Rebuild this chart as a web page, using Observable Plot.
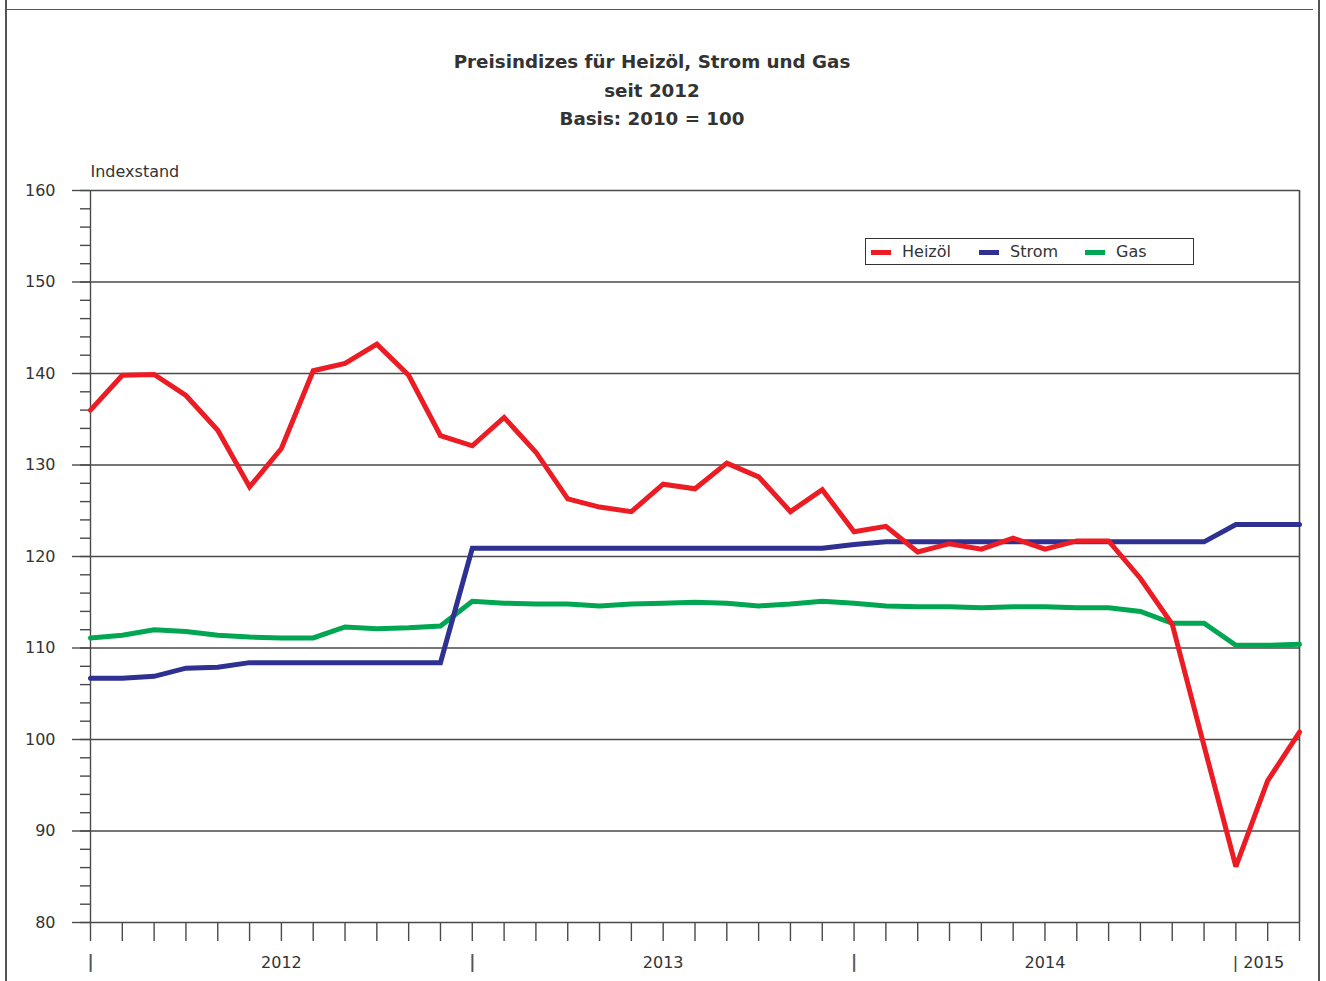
<!DOCTYPE html>
<html>
<head>
<meta charset="utf-8">
<script src="https://cdn.jsdelivr.net/npm/d3@7"></script>
<script src="https://cdn.jsdelivr.net/npm/@observablehq/plot@0.6"></script>
<style>
  html, body { margin: 0; padding: 0; background: #fff; }
  #wrap { position: relative; width: 1326px; height: 981px; overflow: hidden; font-family: "DejaVu Sans", sans-serif; color: #333; }
  #chart { position: absolute; left: 0; top: 0; }
  .frame { position: absolute; background: #555; }
  #title { position: absolute; left: 0; width: 1304px; top: 48px; text-align: center; font-weight: bold; font-size: 18.3px; line-height: 28.5px; color: #333; }
  #legend { position: absolute; left: 865px; top: 238px; width: 327px; height: 25px; border: 1.5px solid #333; box-sizing: content-box; font-size: 16px; color: #333; }
  .item { position: absolute; top: 0; height: 25px; line-height: 25px; }
  .sw { position: absolute; width: 20px; height: 5px; top: 11px; left: 0; }
  .lab { position: absolute; left: 31px; top: 0; white-space: nowrap; }
</style>
</head>
<body>
<div id="wrap">
  <div id="chart"></div>
  <div class="frame" style="left:5px;top:0;width:1.5px;height:981px"></div>
  <div class="frame" style="left:5px;top:8.5px;width:1308px;height:1.5px"></div>
  <div class="frame" style="left:1318px;top:0;width:1.5px;height:981px"></div>
  <div id="title">Preisindizes für Heizöl, Strom und Gas<br>seit 2012<br>Basis: 2010 = 100</div>
  <div id="legend"></div>
</div>
<script>
// Months (Jan 2012 – Mar 2015)
const months = [
  "2012-01","2012-02","2012-03","2012-04","2012-05","2012-06","2012-07","2012-08","2012-09","2012-10","2012-11","2012-12",
  "2013-01","2013-02","2013-03","2013-04","2013-05","2013-06","2013-07","2013-08","2013-09","2013-10","2013-11","2013-12",
  "2014-01","2014-02","2014-03","2014-04","2014-05","2014-06","2014-07","2014-08","2014-09","2014-10","2014-11","2014-12",
  "2015-01","2015-02","2015-03"
];
const heizoel = [
  136.0, 139.8, 139.9, 137.6, 133.8, 127.6, 131.8, 140.3, 141.1, 143.2, 139.8, 133.2,
  132.1, 135.2, 131.4, 126.3, 125.4, 124.9, 127.9, 127.4, 130.2, 128.7, 124.9, 127.3,
  122.7, 123.3, 120.5, 121.4, 120.8, 122.0, 120.8, 121.7, 121.7, 117.6, 112.6, 99.3,
  86.1, 95.5, 100.8
];
const strom = [
  106.7, 106.7, 106.9, 107.8, 107.9, 108.4, 108.4, 108.4, 108.4, 108.4, 108.4, 108.4,
  120.9, 120.9, 120.9, 120.9, 120.9, 120.9, 120.9, 120.9, 120.9, 120.9, 120.9, 120.9,
  121.3, 121.6, 121.6, 121.6, 121.6, 121.6, 121.6, 121.6, 121.6, 121.6, 121.6, 121.6,
  123.5, 123.5, 123.5
];
const gas = [
  111.1, 111.4, 112.0, 111.8, 111.4, 111.2, 111.1, 111.1, 112.3, 112.1, 112.2, 112.4,
  115.1, 114.9, 114.8, 114.8, 114.6, 114.8, 114.9, 115.0, 114.9, 114.6, 114.8, 115.1,
  114.9, 114.6, 114.5, 114.5, 114.4, 114.5, 114.5, 114.4, 114.4, 114.0, 112.7, 112.7,
  110.3, 110.3, 110.4
];
const seriesNames = ["Heizöl", "Strom", "Gas"];
const seriesColors = ["#ec1c24", "#2e3192", "#00a651"];
const yearLabels = ["2012", "2013", "2014"];
const yearCenters = ["2012-07", "2013-07", "2014-07"];
const yearStarts = ["2012-01", "2013-01", "2014-01"];
const lastYearLabel = "| 2015";
const lastYearStart = "2015-01";
const yMajorTicks = [80, 90, 100, 110, 120, 130, 140, 150, 160];
const yAxisTitle = "Indexstand";

const idx = m => months.indexOf(m);
const rows = [];
[["Gas", gas], ["Strom", strom], ["Heizöl", heizoel]].forEach(([name, vals]) => {
  vals.forEach((v, i) => rows.push({i, value: v, series: name}));
});

const font = "DejaVu Sans, sans-serif";
const grid = "#4a4a4a";
const blank = () => "";

const plot = Plot.plot({
  width: 1326,
  height: 981,
  marginLeft: 90,
  marginRight: 27,
  marginTop: 190,
  marginBottom: 59,
  style: {fontFamily: font, color: "#333", background: "transparent"},
  x: {type: "linear", domain: [0, months.length - 1], axis: null},
  y: {domain: [80, 160], axis: null},
  color: {domain: seriesNames, range: seriesColors},
  marks: [
    Plot.ruleY(yMajorTicks.slice(1), {stroke: grid, strokeWidth: 1.4}),
    Plot.axisY(d3.range(80, 161, 2), {tickSize: 10, tickFormat: blank, label: null, stroke: grid, strokeWidth: 1.4}),
    Plot.axisY(yMajorTicks, {tickSize: 18, tickPadding: 17, label: null, stroke: grid, strokeWidth: 1.4, fontSize: 16, fill: "#333", tickFormat: d => String(d)}),
    Plot.axisX(d3.range(months.length), {anchor: "bottom", tickSize: 19, tickFormat: blank, label: null, stroke: grid, strokeWidth: 1.4}),
    Plot.ruleX([0], {stroke: grid, strokeWidth: 1.4}),
    Plot.ruleX([months.length - 1], {stroke: grid, strokeWidth: 1.6}),
    Plot.ruleY([80], {stroke: grid, strokeWidth: 1.6}),
    Plot.text(yearLabels, {x: (d, i) => idx(yearCenters[i]), text: d => d, frameAnchor: "bottom", dy: 45, fontSize: 16, fill: "#333"}),
    Plot.text(yearStarts, {x: d => idx(d), text: () => "|", frameAnchor: "bottom", dy: 45, fontSize: 17, fontWeight: "bold", fill: "#555"}),
    Plot.text([lastYearLabel], {x: () => idx(lastYearStart), text: d => d, frameAnchor: "bottom", dy: 45, dx: -3, textAnchor: "start", fontSize: 16, fill: "#333"}),
    Plot.text([yAxisTitle], {frameAnchor: "top-left", dy: -25, textAnchor: "start", fontSize: 16, fill: "#333"}),
    Plot.line(rows, {x: "i", y: "value", z: "series", stroke: "series", strokeWidth: 5, strokeLinejoin: "miter", strokeMiterlimit: 3})
  ]
});
document.getElementById("chart").appendChild(plot);

// Legend
const legend = document.getElementById("legend");
const offsets = [5, 113, 219];
seriesNames.forEach((name, i) => {
  const it = document.createElement("div");
  it.className = "item";
  it.style.left = offsets[i] + "px";
  it.innerHTML = `<div class="sw" style="background:${seriesColors[i]}"></div><div class="lab">${name}</div>`;
  legend.appendChild(it);
});
</script>
</body>
</html>
